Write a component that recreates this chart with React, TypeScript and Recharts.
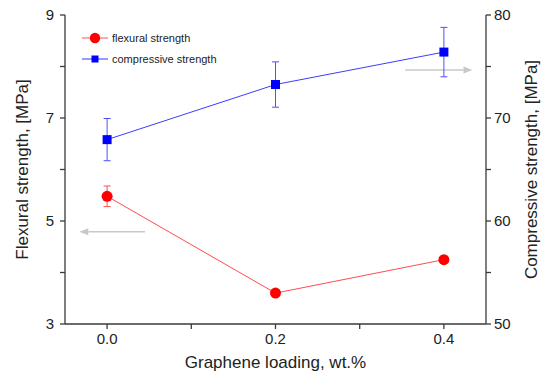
import {
  ErrorBar,
  Legend,
  Line,
  LineChart,
  ReferenceLine,
  XAxis,
  YAxis,
} from "recharts";

const loadings = [0, 0.2, 0.4];
const flexural = [5.48, 3.6, 4.25];
const flexuralErr = [0.2, 0.06, 0.04];
const compressive = [67.9, 73.25, 76.4];
const compressiveErr = [2.05, 2.2, 2.4];

const xTicks = [0, 0.1, 0.2, 0.3, 0.4];
const xTopTicks = [0, 0.2, 0.4];
const leftTicks = [3, 4, 5, 6, 7, 8, 9];
const rightTicks = [50, 55, 60, 65, 70, 75, 80];

// gray annotation arrows: [x1, y1, x2, y2] in data units
const leftArrow = [0.045, 4.79, -0.033, 4.79];
const rightArrow = [0.354, 74.66, 0.434, 74.66];

const data = loadings.map((x, i) => ({
  x,
  flex: flexural[i],
  flexErr: flexuralErr[i],
  comp: compressive[i],
  compErr: compressiveErr[i],
}));

const FONT = "'Liberation Sans', Arial, Helvetica, sans-serif";
const AXIS = "#3a3a3a";
const RED = "#ff0000";
const BLUE = "#0000ff";

const Arrow = (props: any) => {
  const { x1, y1, x2, y2 } = props;
  const dir = x2 > x1 ? 1 : -1;
  const tipX = x2;
  const baseX = x2 - dir * 9;
  return (
    <g>
      <line x1={x1} y1={y1} x2={baseX} y2={y2} stroke="#c8c8c8" strokeWidth={1.5} />
      <polygon
        points={`${tipX},${y2} ${baseX},${y2 - 3.5} ${baseX},${y2 + 3.5}`}
        fill="#c8c8c8"
      />
    </g>
  );
};

const SquareDot = (props: any) => {
  const { cx, cy, index } = props;
  if (cx == null || cy == null) return null;
  return <rect key={`sq-${index}`} x={cx - 4.5} y={cy - 4.5} width={9} height={9} fill={BLUE} />;
};

const CircleDot = (props: any) => {
  const { cx, cy, index } = props;
  if (cx == null || cy == null) return null;
  return <circle key={`ci-${index}`} cx={cx} cy={cy} r={5.5} fill={RED} />;
};

const LegendBox = () => (
  <svg width={200} height={40} style={{ display: "block" }}>
    <line x1={2} y1={8} x2={28} y2={8} stroke="#ff5555" strokeWidth={1} />
    <circle cx={15} cy={8} r={5.2} fill={RED} />
    <text x={32} y={12} fontSize={11} fontFamily={FONT} fill="#222">
      flexural strength
    </text>
    <line x1={2} y1={29} x2={28} y2={29} stroke="#3333ff" strokeWidth={1} />
    <rect x={11.5} y={25.5} width={7} height={7} fill={BLUE} />
    <text x={32} y={33} fontSize={11} fontFamily={FONT} fill="#222">
      compressive strength
    </text>
  </svg>
);

const tickStyle = { fontSize: 15, fill: "#222", fontFamily: FONT };

export default function App() {
  return (
    <div style={{ position: "absolute", left: 0, top: 0, background: "#fff" }}>
      <LineChart
        width={542}
        height={379}
        data={data}
        margin={{ top: 15, right: 0, bottom: 0, left: 0 }}
      >
        <XAxis
          dataKey="x"
          type="number"
          domain={[-0.05, 0.45]}
          ticks={xTicks}
          allowDataOverflow
          tickFormatter={(v: number) => (xTopTicks.includes(v) ? v.toFixed(1) : "")}
          tick={tickStyle}
          tickSize={5}
          tickMargin={4}
          height={55}
          stroke={AXIS}
          strokeWidth={1.3}
          label={{
            value: "Graphene loading, wt.%",
            position: "center",
            dy: 10,
            style: { fontSize: 17, fill: "#222", fontFamily: FONT },
          }}
        />
        <XAxis
          xAxisId="top"
          dataKey="x"
          type="number"
          orientation="top"
          mirror
          height={0}
          domain={[-0.05, 0.45]}
          ticks={xTopTicks}
          tickFormatter={() => ""}
          tickSize={5}
          stroke={AXIS}
          strokeWidth={1.3}
        />
        <YAxis
          yAxisId="left"
          domain={[3, 9]}
          ticks={leftTicks}
          tickFormatter={(v: number) => (v % 2 === 1 ? String(v) : "")}
          tick={tickStyle}
          tickSize={5}
          tickMargin={6}
          width={65}
          stroke={AXIS}
          strokeWidth={1.3}
          label={{
            value: "Flexural strength, [MPa]",
            angle: -90,
            position: "center",
            dx: -11,
            style: { fontSize: 17, fill: "#222", fontFamily: FONT, textAnchor: "middle" },
          }}
        />
        <YAxis
          yAxisId="right"
          orientation="right"
          domain={[50, 80]}
          ticks={rightTicks}
          tickFormatter={(v: number) => (v % 10 === 0 ? String(v) : "")}
          tick={tickStyle}
          tickSize={5}
          tickMargin={3}
          width={56}
          stroke={AXIS}
          strokeWidth={1.3}
          label={{
            value: "Compressive strength, [MPa]",
            angle: -90,
            position: "center",
            dx: 17,
            style: { fontSize: 17, fill: "#222", fontFamily: FONT, textAnchor: "middle" },
          }}
        />
        <ReferenceLine
          yAxisId="left"
          segment={[
            { x: leftArrow[0], y: leftArrow[1] },
            { x: leftArrow[2], y: leftArrow[3] },
          ]}
          ifOverflow="visible"
          shape={Arrow}
        />
        <ReferenceLine
          yAxisId="right"
          segment={[
            { x: rightArrow[0], y: rightArrow[1] },
            { x: rightArrow[2], y: rightArrow[3] },
          ]}
          ifOverflow="visible"
          shape={Arrow}
        />
        <Line
          yAxisId="left"
          dataKey="flex"
          stroke="#ff4d4d"
          strokeWidth={1}
          dot={CircleDot}
          activeDot={false}
          isAnimationActive={false}
        >
          <ErrorBar dataKey="flexErr" width={3.5} stroke="#ff5050" strokeWidth={1} />
        </Line>
        <Line
          yAxisId="right"
          dataKey="comp"
          stroke="#3d3dff"
          strokeWidth={1}
          dot={SquareDot}
          activeDot={false}
          isAnimationActive={false}
        >
          <ErrorBar dataKey="compErr" width={3.5} stroke="#4f4fff" strokeWidth={1} />
        </Line>
        <Legend
          layout="horizontal"
          verticalAlign="middle"
          align="center"
          content={<LegendBox />}
          wrapperStyle={{ position: "absolute", left: 80, top: 30, width: 200, height: 40 }}
        />
      </LineChart>
    </div>
  );
}
